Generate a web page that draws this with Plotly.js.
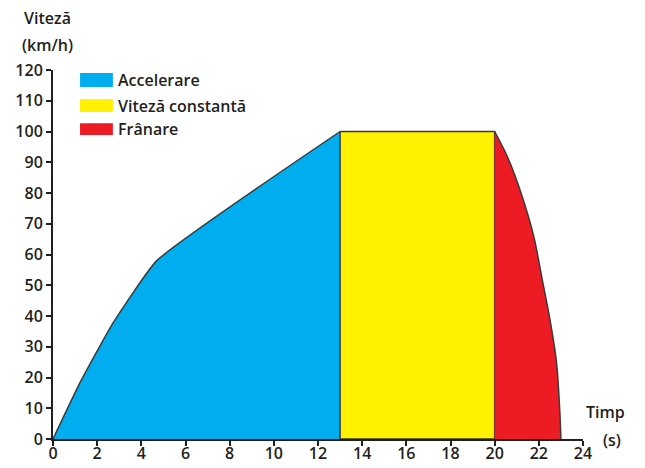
<!DOCTYPE html>
<html>
<head>
<meta charset="utf-8">
<script src="https://cdn.plot.ly/plotly-3.0.1.min.js"></script>
<style>html,body{margin:0;padding:0;background:#fff;}#chart{width:645px;height:468px;}</style>
</head>
<body>
<div id="chart"></div>
<script>
// Data
const seriesNames = ["Accelerare", "Viteză constantă", "Frânare"];
const seriesColors = ["#00AEEF", "#FFF200", "#ED1C24"];

const accelT = [0, 1.2, 2.7, 4.7, 13];
const accelV = [0, 18, 37.5, 58, 100];

const constT = [13, 20];
const constV = [100, 100];

const brakeT = [20, 20.5, 20.9, 21.5, 21.8, 22.15, 22.5, 22.8, 22.95, 23];
const brakeV = [100, 93, 86, 73, 65, 52, 39, 25, 9, 0];

const xTicks = [0, 2, 4, 6, 8, 10, 12, 14, 16, 18, 20, 22, 24];
const yTicks = [0, 10, 20, 30, 40, 50, 60, 70, 80, 90, 100, 110, 120];

const yTitleLines = ["Viteză", "(km/h)"];
const xTitleLines = ["Timp", "(s)"];

const outline = {color: "#3a3a3a", width: 1.5};

// constant-speed block as a closed polygon (draws the vertical edges)
const cFirst = constT[0], cLast = constT[constT.length - 1];
const traces = [
  {type: "scatter", mode: "lines", x: accelT, y: accelV, fill: "tozeroy",
   fillcolor: seriesColors[0], line: Object.assign({shape: "spline", smoothing: 0.4}, outline),
   name: seriesNames[0], showlegend: false, hoverinfo: "skip"},
  {type: "scatter", mode: "lines",
   x: constT.concat([cLast, cFirst, cFirst]), y: constV.concat([0, 0, constV[0]]),
   fill: "toself", fillcolor: seriesColors[1], line: Object.assign({shape: "linear"}, outline),
   name: seriesNames[1], showlegend: false, hoverinfo: "skip"},
  {type: "scatter", mode: "lines", x: brakeT, y: brakeV, fill: "tozeroy",
   fillcolor: seriesColors[2], line: Object.assign({shape: "spline", smoothing: 0.8}, outline),
   name: seriesNames[2], showlegend: false, hoverinfo: "skip"}
];

const txtColor = "#231f20";
const baseFont = {family: "Open Sans, sans-serif", size: 16, color: txtColor, weight: 600};

const shapes = [];
const annotations = [];
const legendY = [[0.954, 0.992], [0.886, 0.921], [0.824, 0.856]];
seriesNames.forEach((n, i) => {
  shapes.push({type: "rect", xref: "paper", yref: "paper",
    x0: 0.051, x1: 0.113, y0: legendY[i][0], y1: legendY[i][1],
    fillcolor: seriesColors[i], line: {width: 0}});
  annotations.push({xref: "paper", yref: "paper", x: 0.119,
    y: (legendY[i][0] + legendY[i][1]) / 2, xanchor: "left", yanchor: "middle",
    text: n, showarrow: false, font: baseFont});
});
const yTitlePos = [1.141, 1.068];
yTitleLines.forEach((t, i) => annotations.push({xref: "paper", yref: "paper",
  x: -0.011, y: yTitlePos[i], xanchor: "center", yanchor: "middle",
  text: t, showarrow: false, font: baseFont}));
const xTitlePos = [[1.042, 0.073], [1.054, -0.003]];
xTitleLines.forEach((t, i) => annotations.push({xref: "paper", yref: "paper",
  x: xTitlePos[i][0], y: xTitlePos[i][1], xanchor: "center", yanchor: "middle",
  text: t, showarrow: false, font: baseFont}));

const layout = {
  width: 645, height: 468,
  margin: {l: 53, r: 62, t: 70, b: 29, pad: 0},
  paper_bgcolor: "#fff", plot_bgcolor: "#fff",
  showlegend: false,
  font: baseFont,
  xaxis: {range: [0, 24], tickvals: xTicks, ticktext: xTicks.map(String),
    showgrid: false, zeroline: false, showline: true, linecolor: txtColor, linewidth: 2,
    ticks: "outside", ticklen: 5, tickwidth: 2, tickcolor: txtColor,
    tickfont: baseFont, ticklabelstandoff: -6, fixedrange: true},
  yaxis: {range: [0, 120], tickvals: yTicks, ticktext: yTicks.map(String),
    showgrid: false, zeroline: false, showline: true, linecolor: txtColor, linewidth: 2,
    ticks: "outside", ticklen: 5, tickwidth: 2, tickcolor: txtColor,
    tickfont: baseFont, ticklabelstandoff: 0, fixedrange: true},
  shapes: shapes,
  annotations: annotations
};

Plotly.newPlot("chart", traces, layout, {displayModeBar: false, staticPlot: true});
</script>
</body>
</html>
